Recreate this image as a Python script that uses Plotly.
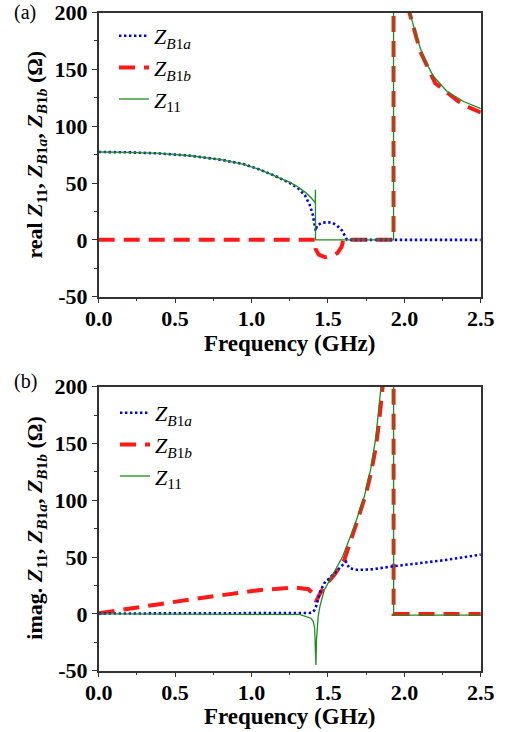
import plotly.graph_objects as go

# ---------------- data: (a) real part ----------------
f_real_b1a = [0.0, 0.2, 0.4, 0.6, 0.8, 0.95, 1.05, 1.15, 1.25, 1.3, 1.35, 1.38, 1.40, 1.41, 1.42,
              1.428, 1.46, 1.493, 1.526, 1.559, 1.592, 1.613, 1.625, 2.5]
re_b1a = [77.3, 77.0, 76.0, 74.0, 70.5, 66.5, 62.0, 56.5, 50.0, 46.0, 39.0, 31.0, 22.5, 15.0, 8.0,
          12.6, 15.0, 15.5, 15.2, 12.6, 8.2, 2.9, 0.0, 0.0]

f_real_b1b = [0.0, 1.418, 1.419, 1.44, 1.482, 1.526, 1.563, 1.59, 1.6, 1.929, 1.9295, 1.96, 2.0,
              2.034, 2.104, 2.202, 2.355, 2.41, 2.5]
re_b1b = [0.0, 0.0, -8.0, -13.0, -15.3, -13.8, -11.5, -6.0, 0.0, 0.0, 800.0, 400.0, 260.0,
          199.6, 165.8, 137.8, 121.7, 117.3, 112.0]

f_real_11 = [0.0, 0.2, 0.4, 0.6, 0.8, 0.95, 1.05, 1.15, 1.25, 1.3, 1.35, 1.39, 1.417, 1.418, 1.4185,
             1.929, 1.9295, 1.96, 2.0, 2.034, 2.083, 2.126, 2.191, 2.279, 2.388, 2.5]
re_11 = [77.3, 77.0, 76.0, 74.0, 70.5, 66.5, 62.0, 56.5, 50.5, 47.0, 42.0, 37.0, 32.6, 44.0, 0.0,
         0.0, 800.0, 400.0, 260.0, 200.4, 177.5, 160.0, 143.7, 130.5, 121.7, 115.5]

# ---------------- data: (b) imaginary part ----------------
f_imag_b1a = [0.0, 1.30, 1.38, 1.40, 1.41, 1.422, 1.432, 1.45, 1.476, 1.531, 1.585, 1.618, 1.64,
              1.694, 1.793, 1.93, 2.098, 2.272, 2.5]
im_b1a = [0.3, 0.5, 0.8, 1.5, 3.0, 6.4, 12.0, 20.0, 27.0, 34.3, 41.6, 46.0, 40.2,
          38.7, 39.3, 42.0, 44.6, 47.5, 52.2]

f_imag_b1b = [0.0, 0.19, 0.408, 0.626, 0.844, 1.062, 1.28, 1.373, 1.40, 1.422, 1.443, 1.476, 1.541,
              1.607, 1.694, 1.749, 1.781, 1.814, 1.836, 1.857, 1.87, 1.90, 1.929, 1.9295, 2.5]
im_b1b = [0.6, 4.1, 8.8, 13.2, 17.3, 21.1, 23.2, 21.7, 18.2, 10.8, 16.7, 24.0, 34.3,
          47.5, 82.7, 106.0, 123.9, 147.0, 170.8, 198.7, 240.0, 500.0, 1000.0, 0.0, 0.0]

f_imag_11 = [0.0, 1.313, 1.389, 1.404, 1.413, 1.417, 1.421, 1.425, 1.430, 1.436, 1.447, 1.476, 1.531,
             1.596, 1.672, 1.738, 1.781, 1.814, 1.847, 1.86, 1.90, 1.929, 1.9295, 2.5]
im_11 = [0.0, -0.5, -3.8, -6.8, -12.6, -22.9, -44.9, -22.9, -11.0, -2.3, 6.4, 21.0, 34.3,
         50.5, 76.9, 103.3, 128.3, 156.0, 200.0, 240.0, 500.0, 1000.0, -1.0, -1.0]

x_ticks = [0.0, 0.5, 1.0, 1.5, 2.0, 2.5]
x_tick_labels = ["0.0", "0.5", "1.0", "1.5", "2.0", "2.5"]
y_ticks = [-50, 0, 50, 100, 150, 200]
y_tick_labels = ["-50", "0", "50", "100", "150", "200"]

# ---------------- styles ----------------
FONT = "Liberation Serif, Times New Roman, serif"
BLUE = "#0000f0"
RED = "#ff1a1a"
GREEN = "#1e8c1e"

name_b1a = "<i>Z</i><sub><i>B</i>1<i>a</i></sub>"
name_b1b = "<i>Z</i><sub><i>B</i>1<i>b</i></sub>"
name_11 = "<i>Z</i><sub>11</sub>"

fig = go.Figure()

def add_panel(xa, ya, leg, fb1a, vb1a, fb1b, vb1b, f11, v11):
    fig.add_trace(go.Scatter(x=fb1b, y=vb1b, mode="lines", name=name_b1b, legend=leg,
                             legendrank=2, legendgroup=leg + "b",
                             line=dict(color=RED, width=4, dash="16px,9px"),
                             xaxis=xa, yaxis=ya))
    fig.add_trace(go.Scatter(x=fb1a, y=vb1a, mode="lines", name=name_b1a, legend=leg,
                             legendrank=1, legendgroup=leg + "a",
                             line=dict(color=BLUE, width=2.6, dash="2.4px,2.6px"),
                             xaxis=xa, yaxis=ya))
    fig.add_trace(go.Scatter(x=f11, y=v11, mode="lines", name=name_11, legend=leg,
                             legendrank=3, legendgroup=leg + "c",
                             line=dict(color=GREEN, width=1.3),
                             xaxis=xa, yaxis=ya))

add_panel("x", "y", "legend", f_real_b1a, re_b1a, f_real_b1b, re_b1b, f_real_11, re_11)
add_panel("x2", "y2", "legend2", f_imag_b1a, im_b1a, f_imag_b1b, im_b1b, f_imag_11, im_11)

W, H = 505, 732
xdom = [98.7 / W, 480.8 / W]
top_dom = [1 - 296.7 / H, 1 - 12.5 / H]
bot_dom = [1 - 670.7 / H, 1 - 386.7 / H]

axis_common = dict(
    showline=True, linecolor="#333333", linewidth=1.5, mirror=True,
    showgrid=False, zeroline=False, automargin=False,
    ticks="outside", ticklen=5, tickwidth=1.3, tickcolor="#333333",
    tickfont=dict(family=FONT, size=22, color="black", weight="bold"),
)

xaxis_common = dict(axis_common, range=[0, 2.5], tickvals=x_ticks, ticktext=x_tick_labels,
                    ticklabelstandoff=-4,
                    minor=dict(dtick=0.25, tick0=0, ticks="outside", ticklen=3, tickcolor="#333333"))
yaxis_common = dict(axis_common, range=[-50, 200], tickvals=y_ticks, ticktext=y_tick_labels,
                    minor=dict(dtick=25, tick0=0, ticks="outside", ticklen=3, tickcolor="#333333"))

leg_common = dict(xanchor="left", yanchor="top", bgcolor="rgba(0,0,0,0)",
                  font=dict(family=FONT, size=22, color="black"),
                  itemwidth=30, tracegroupgap=0, traceorder="grouped")

fig.update_layout(
    width=W, height=H,
    margin=dict(l=0, r=0, t=0, b=0, autoexpand=False),
    paper_bgcolor="white", plot_bgcolor="white",
    xaxis=dict(xaxis_common, domain=xdom, anchor="y"),
    yaxis=dict(yaxis_common, domain=top_dom, anchor="x"),
    xaxis2=dict(xaxis_common, domain=xdom, anchor="y2"),
    yaxis2=dict(yaxis_common, domain=bot_dom, anchor="x2"),
    legend=dict(leg_common, x=114 / W, y=1 - 15 / H),
    legend2=dict(leg_common, x=115 / W, y=1 - 392 / H),
    showlegend=True,
)

title_a = ("real <i>Z</i><sub>11</sub>, <i>Z</i><sub><i>B</i>1<i>a</i></sub>, "
           "<i>Z</i><sub><i>B</i>1<i>b</i></sub> (Ω)")
title_b = ("imag. <i>Z</i><sub>11</sub>, <i>Z</i><sub><i>B</i>1<i>a</i></sub>, "
           "<i>Z</i><sub><i>B</i>1<i>b</i></sub> (Ω)")
x_title = "Frequency (GHz)"

ann_font = dict(family=FONT, size=22, color="black", weight="bold")
xt_font = dict(family=FONT, size=23, color="black", weight="bold")
xmid = sum(xdom) / 2
fig.add_annotation(text=title_a, xref="paper", yref="paper", x=36 / W, y=sum(top_dom) / 2,
                   textangle=-90, showarrow=False, xanchor="center", yanchor="middle", font=ann_font)
fig.add_annotation(text=title_b, xref="paper", yref="paper", x=36 / W, y=sum(bot_dom) / 2,
                   textangle=-90, showarrow=False, xanchor="center", yanchor="middle", font=ann_font)
fig.add_annotation(text=x_title, xref="paper", yref="paper", x=xmid, y=1 - 343 / H,
                   showarrow=False, xanchor="center", yanchor="middle", font=xt_font)
fig.add_annotation(text=x_title, xref="paper", yref="paper", x=xmid, y=1 - 716 / H,
                   showarrow=False, xanchor="center", yanchor="middle", font=xt_font)
fig.add_annotation(text="(a)", xref="paper", yref="paper", x=25 / W, y=1 - 12 / H, showarrow=False,
                   xanchor="center", yanchor="middle", font=dict(family=FONT, size=20, color="black"))
fig.add_annotation(text="(b)", xref="paper", yref="paper", x=25 / W, y=1 - 381 / H, showarrow=False,
                   xanchor="center", yanchor="middle", font=dict(family=FONT, size=20, color="black"))

fig.write_html("out.html", config={"displayModeBar": False},
               post_script="document.body.style.margin='0';document.body.style.overflow='hidden';")
